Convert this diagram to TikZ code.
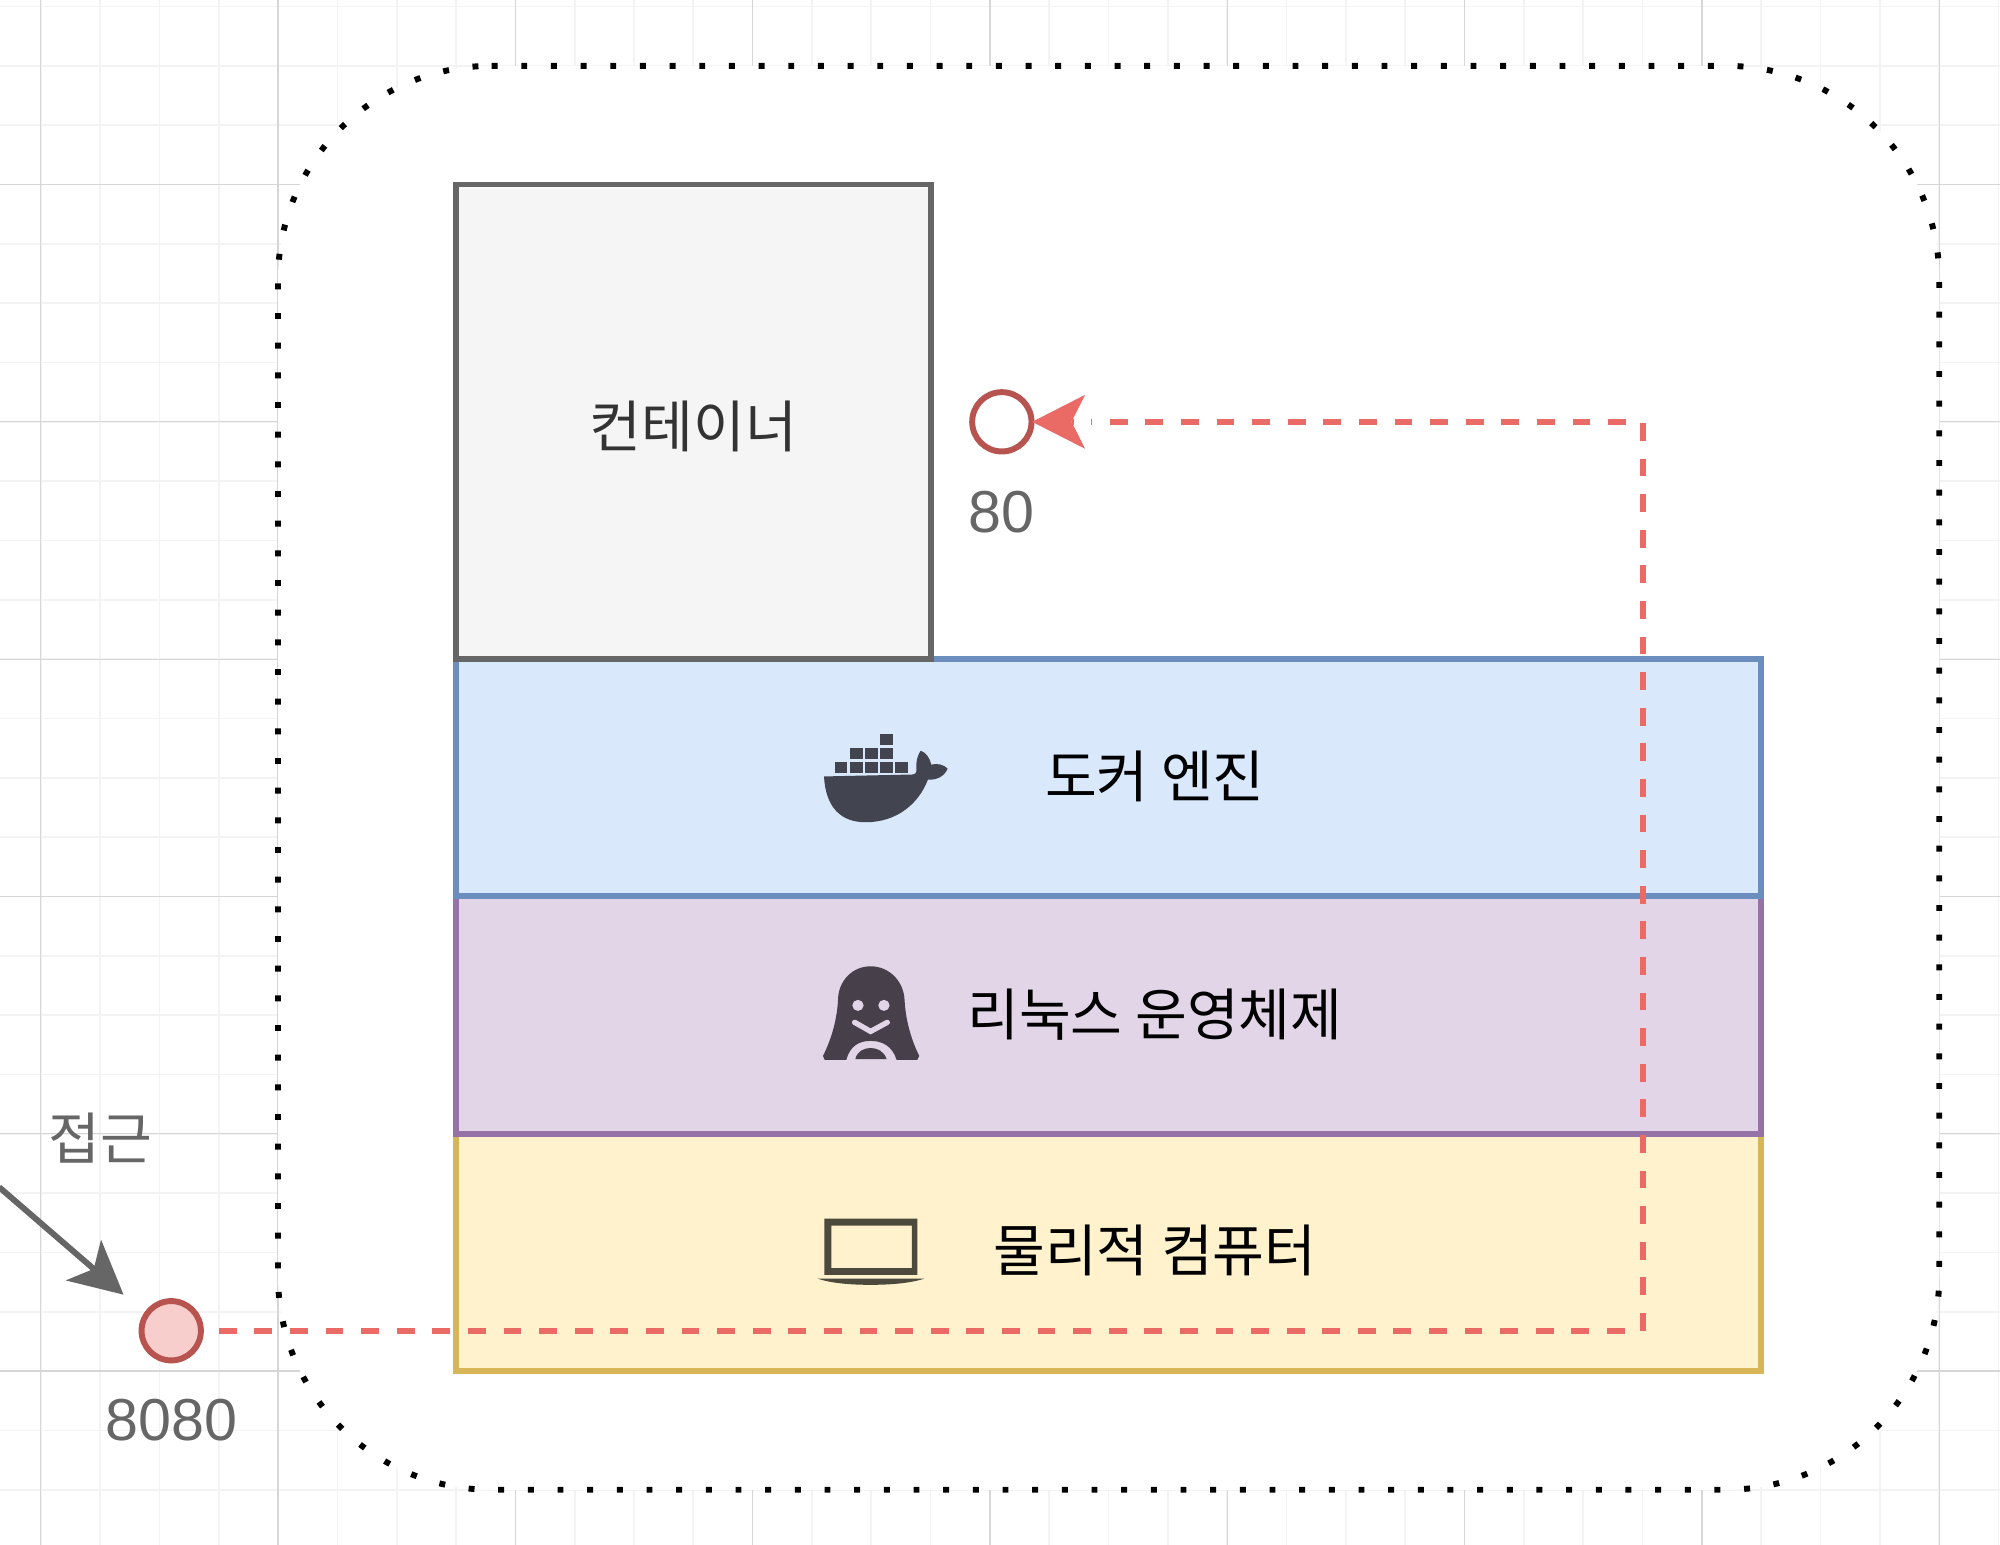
\documentclass[tikz,border=0pt]{standalone}
\usepackage{fontspec}
\setmainfont{Liberation Sans}
\newfontfamily\krfont{Noto Sans CJK KR}
\usetikzlibrary{arrows.meta,positioning}
\definecolor{gridminor}{HTML}{F3F3F3}
\definecolor{gridmajor}{HTML}{D6D6D6}
\definecolor{routered}{HTML}{EA6B66}
\definecolor{portred}{HTML}{B85450}
\definecolor{portfill}{HTML}{F8CECC}
\definecolor{greyline}{HTML}{666666}
\definecolor{ctrfill}{HTML}{F5F5F5}
\definecolor{dockerfill}{HTML}{DAE8FC}
\definecolor{dockerline}{HTML}{6C8EBF}
\definecolor{linuxfill}{HTML}{E1D5E7}
\definecolor{linuxline}{HTML}{9673A6}
\definecolor{pcfill}{HTML}{FFF2CC}
\definecolor{pcline}{HTML}{D6B656}
\definecolor{dockericon}{HTML}{42454F}
\definecolor{linuxicon}{HTML}{473F49}
\definecolor{pcicon}{HTML}{4C493D}
\tikzset{
  layerbox/.style={draw, line width=0.05cm, inner sep=0pt, minimum width=11cm, minimum height=2cm},
  portnode/.style={circle, draw=portred, line width=0.05cm, inner sep=0pt, minimum size=0.5cm},
  hanlabel/.style={inner sep=0pt, font=\krfont\fontsize{13.5}{16}\selectfont},
  portlabel/.style={inner sep=0pt, text=greyline, font=\fontsize{14.2}{16}\selectfont},
  portroute/.style={draw=routered, line width=0.05cm, dash pattern=on 0.15cm off 0.15cm},
  routetip/.style={draw=routered, line width=0.05cm,
    -{Stealth[length=4.47mm,width=4.55mm,inset=1.15mm,line width=0pt,fill=routered]}},
  accessarrow/.style={draw=greyline, line width=0.05cm,
    -{Stealth[length=4.47mm,width=4.55mm,inset=1.15mm,line width=0pt,fill=greyline]}},
  iconframe/.style={shift={(11.967,11.3)}, x=0.00562cm, y=-0.00665cm},
}
\begin{document}
\begin{tikzpicture}[scale=0.5]
    \useasboundingbox (-0.686,-2.93) rectangle (33.024,23.11);
    \fill[white] (-0.686,-2.93) rectangle (33.024,23.11);
    \draw[gridminor, line width=0.4pt, step=1] (-0.686,-2.93) grid (33.024,23.11);
    \draw[gridmajor, line width=0.3pt, step=4] (-0.686,-2.93) grid (33.024,23.11);

    \draw[black, fill=white, line width=0.05cm, dash pattern=on 0.05cm off 0.2cm]
      (7.6,22) -- (28.4,22) arc [start angle=90, end angle=0, radius=3.6]
      -- (32,1.6) arc [start angle=0, end angle=-90, radius=3.6]
      -- (7.6,-2) arc [start angle=270, end angle=180, radius=3.6]
      -- (4,18.4) arc [start angle=180, end angle=90, radius=3.6] -- cycle;

    \node[layerbox, draw=pcline, fill=pcfill] (pcbox) at (18,2) {};
    \node[layerbox, draw=linuxline, fill=linuxfill] (linuxbox) at (18,6) {};
    \node[layerbox, draw=dockerline, fill=dockerfill] (dockerbox) at (18,10) {};
    \node[layerbox, draw=greyline, fill=ctrfill, minimum width=4cm, minimum height=4cm] (ctrbox) at (11,16) {};

    \node[hanlabel, text=black!80] (ctrtext) at (11,15.92) {컨테이너};
    \node[hanlabel] (dockertext) at (18.78,10.03) {도커 엔진};
    \node[hanlabel] (linuxtext) at (18.78,6) {리눅스 운영체제};
    \node[hanlabel] (pctext) at (18.78,2.03) {물리적 컴퓨터};
    \node[hanlabel, text=greyline] (accesstext) at (1,3.92) {접근};

    \begin{scope}[iconframe]
      \fill[dockericon] (388,84) rectangle (426,112);
      \foreach \bx in {298,344,388}
        \fill[dockericon] (\bx,120) rectangle ++(38,28);
      \foreach \bx in {252,298,344,388,434}
        \fill[dockericon] (\bx,155) rectangle ++(38,28);
      \fill[dockericon] (220,192) -- (488,187) .. controls (500,185) and (498,175) .. (497,165)
        .. controls (497,150) and (503,135) .. (510,127) .. controls (525,130) and (538,145) .. (542,162)
        .. controls (560,158) and (580,162) .. (591,172) .. controls (583,190) and (560,202) .. (532,200)
        .. controls (505,260) and (440,308) .. (345,308) .. controls (270,308) and (225,270) .. (220,192) -- cycle;

      \fill[linuxicon] (217,900) .. controls (235,870) and (258,820) .. (262,760)
        .. controls (262,710) and (305,673) .. (360,673) .. controls (415,673) and (460,710) .. (462,760)
        .. controls (466,820) and (488,870) .. (506,900) -- (500,910) -- (438,910)
        .. controls (425,875) and (395,862) .. (360,862) .. controls (325,862) and (298,875) .. (287,910)
        -- (222,910) -- cycle;
      \fill[linuxicon] (314,908) .. controls (320,888) and (340,880) .. (360,880)
        .. controls (380,880) and (400,888) .. (408,908) -- cycle;
      \fill[linuxfill] (322,772) ellipse [x radius=17, y radius=14];
      \fill[linuxfill] (400,772) ellipse [x radius=17, y radius=14];
      \draw[linuxfill, line width=0.045cm, line cap=round] (312,815) -- (360,838) -- (410,815);

      \fill[pcicon, even odd rule] (221,1312) rectangle (500,1455) (242,1330) rectangle (484,1438);
      \fill[pcicon] (200,1464) -- (522,1464) .. controls (480,1476) and (420,1480) .. (360,1480)
        .. controls (300,1480) and (240,1476) .. (200,1464) -- cycle;
    \end{scope}

    \node[portnode, fill=portfill] (hostport) at (2.2,0.68) {};
    \node[portnode, fill=white] (ctrport) at (16.2,16) {};
    \node[portlabel] (hostlabel) at (2.2,-0.82) {8080};
    \node[portlabel] (ctrlabel) at (16.2,14.48) {80};

    \coordinate (routeturn) at (27,16);
    \coordinate (routetail) at (17.42,16);
    \coordinate (accessfrom) at (-0.7,3.1);
    \draw[portroute, shorten <=0.126cm, shorten >=0.48cm] (hostport.east) -| (routeturn) -- (ctrport.east);
    \draw[routetip, shorten >=-0.02cm] (routetail) -- (ctrport.east);
    \draw[accessarrow, shorten >=0.23cm] (accessfrom) -- (hostport.146);
\end{tikzpicture}
\end{document}
